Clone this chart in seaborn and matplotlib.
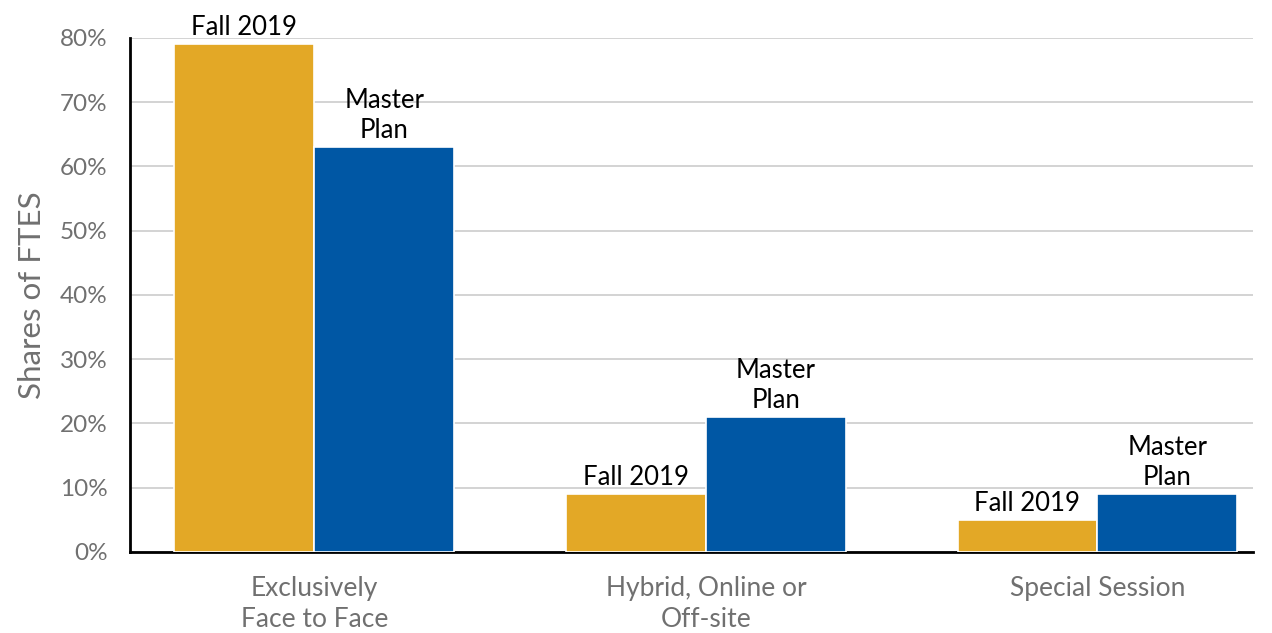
import matplotlib
matplotlib.use("Agg")
import matplotlib.pyplot as plt
import matplotlib.ticker as mticker
import seaborn as sns
import pandas as pd

categories = ["Exclusively\nFace to Face", "Hybrid, Online or\nOff-site", "Special Session"]
series = ["Fall 2019", "Master Plan"]
fall_2019 = [79, 9, 5]
master_plan = [63, 21, 9]
bar_labels = ["Fall 2019", "Master\nPlan"]
y_ticks = [0, 10, 20, 30, 40, 50, 60, 70, 80]

gold = "#E3A826"
blue = "#0057A4"
gray_text = "#707070"

df = pd.DataFrame({
    "category": categories * 2,
    "series": [series[0]] * 3 + [series[1]] * 3,
    "share": fall_2019 + master_plan,
})

sns.set_theme(style="white")
plt.rcParams["font.family"] = ["Lato", "DejaVu Sans"]

fig = plt.figure(figsize=(12.72, 6.33), dpi=100)
ax = fig.add_axes([0.1022, 0.128, 0.8828, 0.812])

sns.barplot(
    data=df, x="category", y="share", hue="series", order=categories,
    hue_order=series, palette=[gold, blue], width=0.715, saturation=1,
    edgecolor="white", linewidth=1.2, legend=False, ax=ax, zorder=3,
)

for container, label in zip(ax.containers, bar_labels):
    ax.bar_label(container, labels=[label] * len(container), padding=3,
                 fontsize=18.5, color="black", linespacing=1.25)

ax.set_ylim(0, 80)
ax.set_xlim(-0.471, 2.397)
ax.set_yticks(y_ticks)
ax.yaxis.set_major_formatter(mticker.FuncFormatter(lambda v, _: f"{v:.0f}%"))
ax.grid(axis="y", color="#c8c8c8", linewidth=1.1, zorder=0)
ax.set_axisbelow(True)

for side in ("top", "right"):
    ax.spines[side].set_visible(False)
for side in ("left", "bottom"):
    ax.spines[side].set_color("black")
    ax.spines[side].set_linewidth(2)

ax.tick_params(axis="y", length=0, pad=16, labelsize=17.5, labelcolor=gray_text)
ax.tick_params(axis="x", length=0, pad=17, labelsize=19, labelcolor=gray_text)
for t in ax.get_xticklabels():
    t.set_linespacing(1.3)

ax.set_xlabel("")
ax.set_ylabel("Shares of FTES", fontsize=22.5, color=gray_text, labelpad=10)

fig.savefig("out.png", dpi=100)
